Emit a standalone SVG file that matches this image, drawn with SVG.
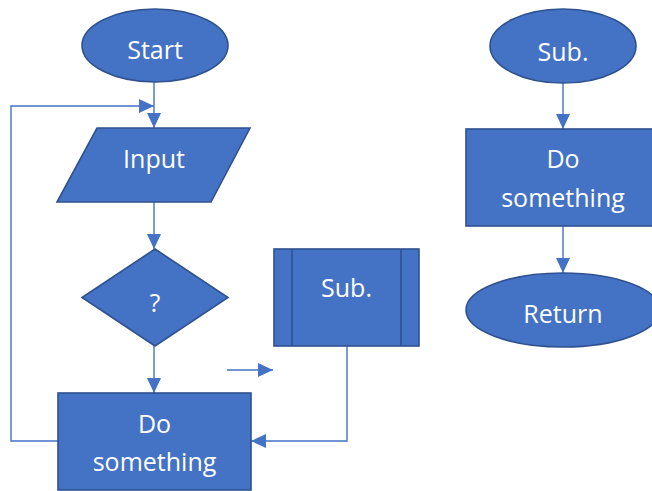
<svg xmlns="http://www.w3.org/2000/svg" width="652" height="491" viewBox="0 0 652 491">
  <style>
    .shape { fill: #4472C4; stroke: #2F528F; stroke-width: 1.6; }
    .inner { fill: none; stroke: #2F528F; stroke-width: 1.6; }
    .label { fill: #FFFFFF; font-family: "Open Sans", "Noto Sans", sans-serif; font-size: 25px; text-anchor: middle; }
    .conn { fill: none; stroke: #4472C4; stroke-width: 1.4; marker-end: url(#arrow); }
  </style>
  <defs>
    <marker id="arrow" markerUnits="userSpaceOnUse" markerWidth="16" markerHeight="14" refX="15" refY="7" orient="auto">
      <path d="M0,0 L15,7 L0,14 Z" fill="#4472C4"/>
    </marker>
  </defs>
  <rect width="652" height="491" fill="#FFFFFF"/>

  <g id="connectors">
    <path class="conn" d="M154,82 V128"/>
    <path class="conn" d="M58,441 H11 V106 H154"/>
    <path class="conn" d="M154,202 V249"/>
    <path class="conn" d="M154,346 V393"/>
    <path class="conn" d="M227,370 H273"/>
    <path class="conn" d="M347,346 V441 H251"/>
    <path class="conn" d="M563,83 V129"/>
    <path class="conn" d="M563,226 V273"/>
  </g>

  <g id="start">
    <ellipse class="shape" cx="155" cy="45.5" rx="73" ry="36.5"/>
    <text class="label" x="155" y="59">Start</text>
  </g>

  <g id="input">
    <polygon class="shape" points="97,128 250,128 211,202 57,202"/>
    <text class="label" x="154" y="168">Input</text>
  </g>

  <g id="decision">
    <polygon class="shape" points="155,249 228,297.5 155,346 82,297.5"/>
    <text class="label" x="155" y="312">?</text>
  </g>

  <g id="do-something">
    <rect class="shape" x="58" y="393" width="193" height="97"/>
    <text class="label" x="154.5" y="433">Do</text>
    <text class="label" x="154.5" y="471">something</text>
  </g>

  <g id="sub-call">
    <rect class="shape" x="274" y="249" width="145" height="97"/>
    <line class="inner" x1="292" y1="249" x2="292" y2="346"/>
    <line class="inner" x1="401" y1="249" x2="401" y2="346"/>
    <text class="label" x="346.5" y="297">Sub.</text>
  </g>

  <g id="sub-start">
    <ellipse class="shape" cx="563" cy="46" rx="73" ry="37"/>
    <text class="label" x="563" y="61">Sub.</text>
  </g>

  <g id="sub-do-something">
    <rect class="shape" x="466" y="129" width="194" height="97"/>
    <text class="label" x="563" y="168">Do</text>
    <text class="label" x="563" y="207">something</text>
  </g>

  <g id="return">
    <ellipse class="shape" cx="563" cy="310" rx="97" ry="37"/>
    <text class="label" x="563" y="323">Return</text>
  </g>
</svg>
